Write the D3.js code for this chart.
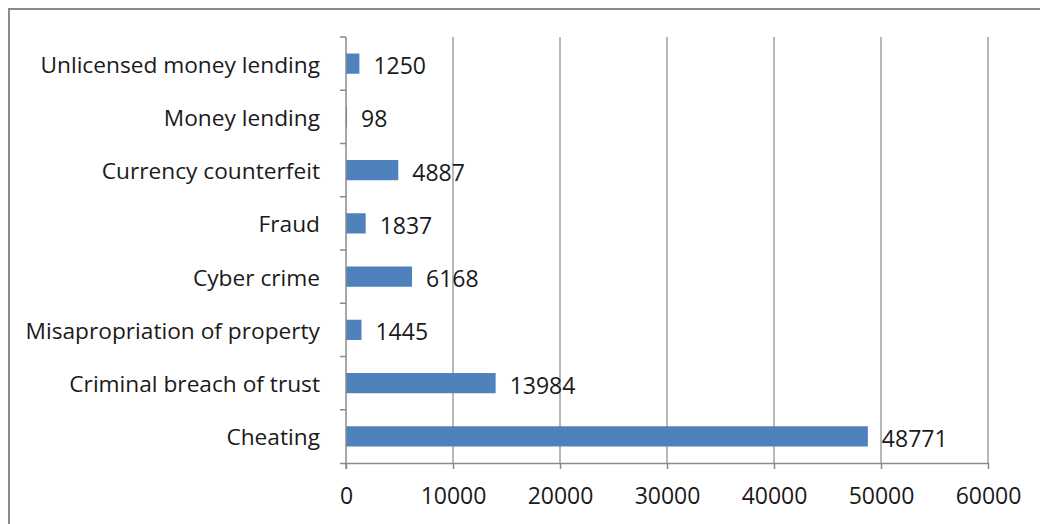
<!DOCTYPE html>
<html>
<head>
<meta charset="utf-8">
<script src="https://cdn.jsdelivr.net/npm/d3@7"></script>
<style>
  html, body { margin: 0; padding: 0; background: #fff; }
  svg { display: block; }
  text { font-family: "Open Sans", Lato, sans-serif; fill: #1a1a1a; }
</style>
</head>
<body>
<svg id="chart" width="1040" height="524"></svg>
<script>
// Offence categories, listed top to bottom
const categories = [
  "Unlicensed money lending",
  "Money lending",
  "Currency counterfeit",
  "Fraud",
  "Cyber crime",
  "Misapropriation of property",
  "Criminal breach of trust",
  "Cheating"
];
// Number of cases for each category
const cases = [1250, 98, 4887, 1837, 6168, 1445, 13984, 48771];
// Value axis ticks
const xTicks = [0, 10000, 20000, 30000, 40000, 50000, 60000];

const svg = d3.select("#chart");
const W = 1040, H = 524;
const plot = { left: 346, right: 988, top: 37, bottom: 463 };
const fontFamily = "'Open Sans', Lato, sans-serif";

// Outer chart frame (top and left edges visible)
svg.append("path")
  .attr("d", `M9,${H + 2} L9,9 L${W + 2},9`)
  .attr("fill", "none")
  .attr("stroke", "#8a8a8a")
  .attr("stroke-width", 2);

const x = d3.scaleLinear().domain([0, 60000]).range([plot.left, plot.right]);
const y = d3.scaleBand().domain(categories).range([plot.top, plot.bottom]).paddingInner(0.62).paddingOuter(0.31);
const yEdges = d3.scaleBand().domain(categories).range([plot.top, plot.bottom]);

// Vertical gridlines
svg.append("g")
  .selectAll("line")
  .data(xTicks.slice(1))
  .join("line")
  .attr("x1", d => x(d)).attr("x2", d => x(d))
  .attr("y1", plot.top).attr("y2", plot.bottom)
  .attr("stroke", "#a0a0a0")
  .attr("stroke-width", 1.5);

// Bars
svg.append("g")
  .selectAll("rect")
  .data(categories)
  .join("rect")
  .attr("x", x(0))
  .attr("y", d => y(d))
  .attr("width", (d, i) => x(cases[i]) - x(0))
  .attr("height", y.bandwidth())
  .attr("fill", "#4f81bd");

// Value axis
const xAxis = svg.append("g")
  .attr("transform", `translate(0,${plot.bottom})`)
  .call(d3.axisBottom(x).tickValues(xTicks).tickSize(6).tickPadding(19).tickFormat(d3.format("d")));
xAxis.select(".domain").attr("stroke", "#8a8a8a").attr("stroke-width", 1.5)
  .attr("d", `M${plot.left - 6},0.5H${plot.right}`);
xAxis.selectAll(".tick line").attr("stroke", "#8a8a8a").attr("stroke-width", 1.5);
xAxis.selectAll(".tick text").attr("font-size", 23).attr("fill", "#1a1a1a")
  .style("font-family", fontFamily);

// Category axis: line with ticks on band boundaries
const yAxis = svg.append("g");
yAxis.append("line")
  .attr("x1", plot.left).attr("x2", plot.left)
  .attr("y1", plot.top).attr("y2", plot.bottom + 6)
  .attr("stroke", "#8a8a8a").attr("stroke-width", 1.5);
yAxis.selectAll(".cat-tick")
  .data(categories)
  .join("line")
  .attr("class", "cat-tick")
  .attr("x1", plot.left - 6).attr("x2", plot.left)
  .attr("y1", d => yEdges(d)).attr("y2", d => yEdges(d))
  .attr("stroke", "#8a8a8a").attr("stroke-width", 1.5);
yAxis.selectAll(".cat-label")
  .data(categories)
  .join("text")
  .attr("class", "cat-label")
  .attr("x", plot.left - 26)
  .attr("y", d => yEdges(d) + yEdges.bandwidth() / 2 + 1)
  .attr("dy", "0.35em")
  .attr("text-anchor", "end")
  .attr("font-size", 22.7)
  .text(d => d);

// Value labels at bar ends
svg.append("g")
  .selectAll("text")
  .data(categories)
  .join("text")
  .attr("x", (d, i) => x(cases[i]) + 14)
  .attr("y", d => y(d) + y.bandwidth() / 2 + 2)
  .attr("dy", "0.37em")
  .attr("font-size", 23)
  .text((d, i) => cases[i]);
</script>
</body>
</html>
